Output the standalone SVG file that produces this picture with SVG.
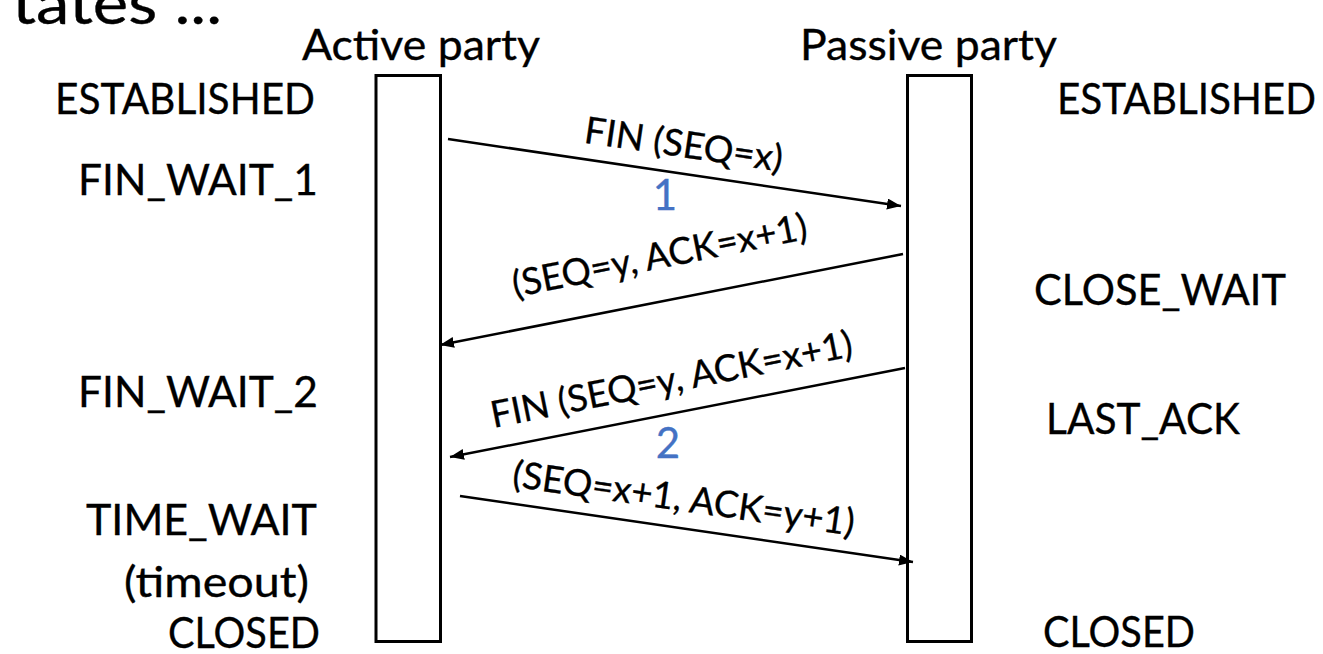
<svg xmlns="http://www.w3.org/2000/svg" width="1323" height="654" viewBox="0 0 1323 654">
<style>
text { font-family: Lato, "Liberation Sans", sans-serif; fill: #000; stroke: #000; stroke-width: 0.35; }
.state { font-size: 43px; }
.head { font-size: 43px; }
.msg { font-size: 37px; }
.num { font-size: 42px; fill: #4472C4; stroke: #4472C4; text-anchor: middle; }
.title { font-size: 58px; }
.box { fill: #fff; stroke: #000; stroke-width: 3; }
.conn { stroke: #000; stroke-width: 2.5; fill: none; marker-end: url(#arr); }
</style>
<defs>
<marker id="arr" markerUnits="userSpaceOnUse" markerWidth="16" markerHeight="12" refX="14" refY="5.5" orient="auto">
<path d="M0,0 L14,5.5 L0,11 z" fill="#000"/>
</marker>
</defs>
<rect width="1323" height="654" fill="#fff"/>
<text class="title" x="12" y="24" textLength="210" lengthAdjust="spacingAndGlyphs">tates ...</text>

<g id="active">
<text class="head" x="302" y="60" textLength="238" lengthAdjust="spacingAndGlyphs">Active party</text>
<rect class="box" x="376" y="75.5" width="64.5" height="566"/>
</g>
<g id="passive">
<text class="head" x="800" y="60" textLength="257" lengthAdjust="spacingAndGlyphs">Passive party</text>
<rect class="box" x="907.5" y="75.5" width="64" height="566"/>
</g>

<g id="active-states">
<text class="state" x="55" y="114" textLength="260" lengthAdjust="spacingAndGlyphs">ESTABLISHED</text>
<text class="state" x="78" y="195" textLength="240" lengthAdjust="spacingAndGlyphs">FIN_WAIT_1</text>
<text class="state" x="78" y="407" textLength="240" lengthAdjust="spacingAndGlyphs">FIN_WAIT_2</text>
<text class="state" x="86" y="535" textLength="231" lengthAdjust="spacingAndGlyphs">TIME_WAIT</text>
<text class="state" x="124" y="597" textLength="185" lengthAdjust="spacingAndGlyphs">(timeout)</text>
<text class="state" x="168" y="648" textLength="152" lengthAdjust="spacingAndGlyphs">CLOSED</text>
</g>
<g id="passive-states">
<text class="state" x="1057" y="114" textLength="259" lengthAdjust="spacingAndGlyphs">ESTABLISHED</text>
<text class="state" x="1034" y="305" textLength="252" lengthAdjust="spacingAndGlyphs">CLOSE_WAIT</text>
<text class="state" x="1046" y="434" textLength="194" lengthAdjust="spacingAndGlyphs">LAST_ACK</text>
<text class="state" x="1043" y="647" textLength="152" lengthAdjust="spacingAndGlyphs">CLOSED</text>
</g>

<g id="connectors">
<line class="conn" x1="448" y1="139" x2="901" y2="206"/>
<line class="conn" x1="903" y1="254" x2="440" y2="345"/>
<line class="conn" x1="905" y1="368" x2="450" y2="457"/>
<line class="conn" x1="460" y1="496" x2="913" y2="562"/>
</g>

<g id="labels">
<text class="msg" text-anchor="middle" transform="translate(682,157) rotate(8.4)" textLength="200" lengthAdjust="spacingAndGlyphs">FIN (SEQ=x)</text>
<text class="num" x="665" y="210">1</text>
<text class="msg" text-anchor="middle" transform="translate(662,268) rotate(-11.3)" textLength="300" lengthAdjust="spacingAndGlyphs">(SEQ=y, ACK=x+1)</text>
<text class="msg" text-anchor="middle" transform="translate(674,392) rotate(-11.3)" textLength="368" lengthAdjust="spacingAndGlyphs">FIN (SEQ=y, ACK=x+1)</text>
<text class="num" x="668" y="458">2</text>
<text class="msg" text-anchor="middle" transform="translate(682,511) rotate(8.2)" textLength="345" lengthAdjust="spacingAndGlyphs">(SEQ=x+1, ACK=y+1)</text>
</g>
</svg>
